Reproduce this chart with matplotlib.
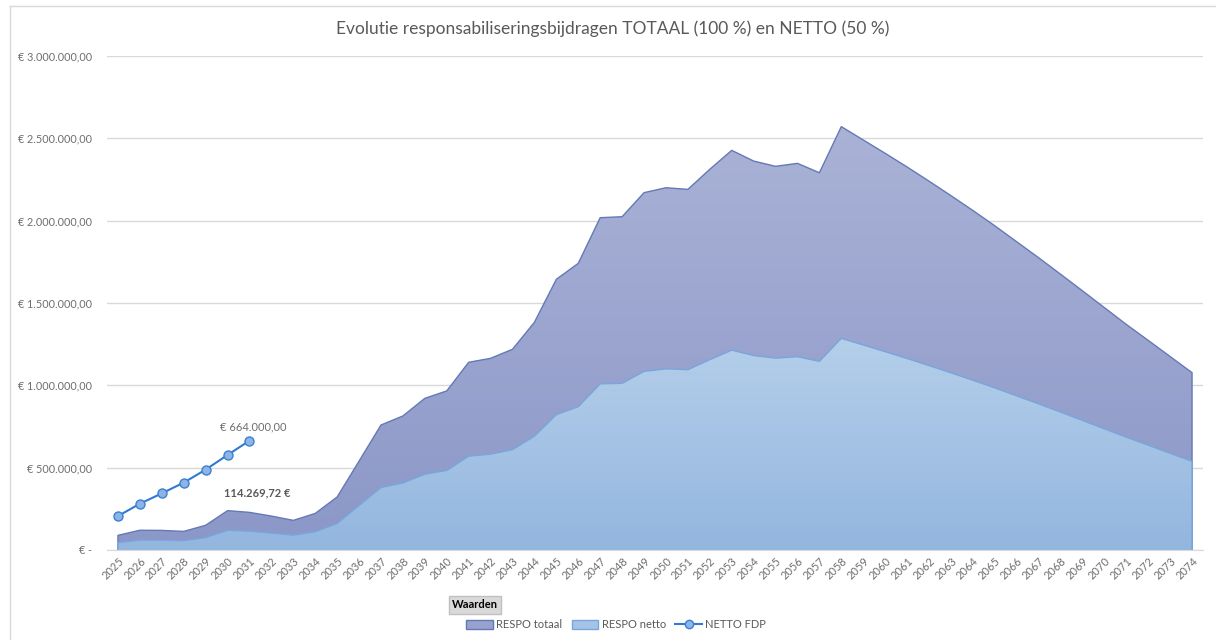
import numpy as np
import matplotlib as mpl
import matplotlib.pyplot as plt
from matplotlib.colors import LinearSegmentedColormap
from matplotlib.patches import Patch
from matplotlib.lines import Line2D

plt.rcParams['font.family'] = ['Lato', 'DejaVu Sans']

years = list(range(2025, 2075))

respo_totaal = [89000, 120000, 119000, 113000, 150000, 239000, 228539.44, 206000, 180000, 222000,
	322000, 540000, 759000, 814000, 921000, 966000, 1140000, 1164000, 1219000, 1383000,
	1644000, 1741000, 2018000, 2024000, 2170000, 2200000, 2190000, 2312000, 2427000, 2362000,
	2330000, 2348000, 2291000, 2571000, 2490000, 2409000, 2326000, 2240000, 2152000, 2062000,
	1969000, 1872000, 1775000, 1675000, 1574000, 1472000, 1370000, 1273000, 1175000, 1077000]

respo_netto = [44500, 60000, 59500, 56500, 75000, 119500, 114269.72, 103000, 90000, 111000,
	161000, 270000, 379500, 407000, 460500, 483000, 570000, 582000, 609500, 691500,
	822000, 870500, 1009000, 1012000, 1085000, 1100000, 1095000, 1156000, 1213500, 1181000,
	1165000, 1174000, 1145500, 1285500, 1245000, 1204500, 1163000, 1120000, 1076000, 1031000,
	984500, 936000, 887500, 837500, 787000, 736000, 685000, 636500, 587500, 538500]

fdp_years = [2025, 2026, 2027, 2028, 2029, 2030, 2031]
netto_fdp = [206000, 281000, 344000, 409000, 488000, 577000, 664000]

title = "Evolutie responsabiliseringsbijdragen TOTAAL (100 %) en NETTO (50 %)"
grey = '#595959'
lightgrey = '#6E6E6E'


def euro(v, decimals=2):
	s = "{:,.{d}f}".format(v, d=decimals)
	return s.replace(",", "X").replace(".", ",").replace("X", ".")


def gradientArea(ax, x, y, top, bottom, edge, z):
	poly = ax.fill_between(x, y, 0, facecolor='none', edgecolor='none', zorder=z)
	grad = np.linspace(1, 0, 256).reshape(-1, 1)
	cmap = LinearSegmentedColormap.from_list('g', [bottom, top])
	im = ax.imshow(grad, cmap=cmap, aspect='auto', origin='upper',
		extent=[x[0], x[-1], 0, max(y)], zorder=z, interpolation='bilinear')
	im.set_clip_path(poly.get_paths()[0], transform=ax.transData)
	ax.plot([x[0]] + list(x) + [x[-1]], [0] + list(y) + [0], color=edge, lw=1, zorder=z + 0.1)


fig = plt.figure(figsize=(12.16, 6.4), dpi=100)
ax = fig.add_axes([107/1216, 1-550/640, (1203-107)/1216, (550-56)/640])

gradientArea(ax, years, respo_totaal, '#AAB2D6', '#8B97C7', '#6479B6', 2)
gradientArea(ax, years, respo_netto, '#B5CFEA', '#93B6DF', '#78A6DC', 3)

ax.plot(fdp_years, netto_fdp, color='#2F7BD3', lw=1.5, marker='o', markersize=6.5,
	markerfacecolor='#8DB4E6', markeredgecolor='#3B80D2', markeredgewidth=1, zorder=5)

ax.annotate("€ " + euro(netto_fdp[-1]), xy=(fdp_years[-1], netto_fdp[-1]), xytext=(4, 14),
	textcoords='offset pixels', ha='center', va='center', fontsize=8, color=lightgrey)
ax.annotate(euro(respo_netto[6]) + " €", xy=(years[6], respo_netto[6]), xytext=(8, 38),
	textcoords='offset pixels', ha='center', va='center', fontsize=8, color=grey, fontweight='bold')

ax.set_xlim(years[0] - 0.5, years[-1] + 0.5)
ax.set_ylim(0, 3000000)
ax.set_yticks(np.arange(0, 3000001, 500000))
ax.yaxis.set_major_formatter(mpl.ticker.FuncFormatter(lambda v, p: "€ -" if v == 0 else "€ " + euro(v)))
ax.set_xticks(years)
ax.set_xticklabels([str(y) for y in years], rotation=45, ha='right', va='top', rotation_mode='anchor')
ax.tick_params(axis='both', length=0, labelcolor=lightgrey)
ax.tick_params(axis='y', pad=11, labelsize=7.8)
ax.tick_params(axis='x', pad=4, labelsize=8)
ax.grid(axis='y', color='#D9D9D9', lw=1, zorder=0)
ax.set_axisbelow(True)
for s in ['top', 'right', 'left']:
	ax.spines[s].set_visible(False)
ax.spines['bottom'].set_color('#D9D9D9')
ax.spines['bottom'].set_zorder(6)

fig.text(613/1216, 1-29/640, title, ha='center', va='center', fontsize=12.5, color=grey)

# chart frame (only top and left visible)
fig.add_artist(Line2D([10/1216, 1], [1-6/640, 1-6/640], color='#D9D9D9', lw=1))
fig.add_artist(Line2D([10/1216, 10/1216], [0, 1-6/640], color='#D9D9D9', lw=1))

fig.text(475/1216, 1-605/640, "Waarden", ha='center', va='center', fontsize=8, fontweight='bold',
	color='black', bbox=dict(boxstyle='square,pad=0.3', facecolor='#D9D9D9', edgecolor='#C0C0C0'))

handles = [Patch(facecolor='#97A2CE', edgecolor='#6479B6', label='RESPO totaal'),
	Patch(facecolor='#A5C3E6', edgecolor='#78A6DC', label='RESPO netto'),
	Line2D([], [], color='#2F7BD3', lw=1.5, marker='o', markersize=6, markerfacecolor='#8DB4E6',
		markeredgecolor='#3B80D2', label='NETTO FDP')]
leg = fig.legend(handles=handles, loc='center', bbox_to_anchor=(616/1216, 1-625/640), ncol=3,
	frameon=False, fontsize=8, handlelength=2.4, handleheight=0.8, columnspacing=0.85, handletextpad=0.3)
for t in leg.get_texts():
	t.set_color(grey)

fig.savefig("out.png", dpi=100)
